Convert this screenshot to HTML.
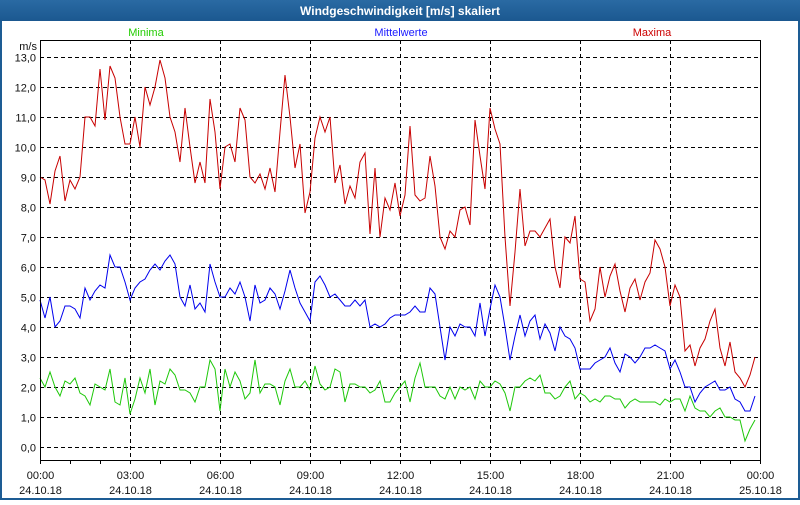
<!DOCTYPE html>
<html><head><meta charset="utf-8"><style>
body{margin:0;width:800px;height:500px;overflow:hidden;background:#fff;font-family:"Liberation Sans","DejaVu Sans",sans-serif}
</style></head><body>
<svg id="chart" width="800" height="500" xmlns="http://www.w3.org/2000/svg" font-family="Liberation Sans, DejaVu Sans, sans-serif">
<defs><linearGradient id="tg" x1="0" y1="0" x2="0" y2="1"><stop offset="0" stop-color="#2a6aa3"/><stop offset="1" stop-color="#1b5890"/></linearGradient></defs>
<rect x="1" y="1" width="798" height="498" fill="#fff" stroke="#1d5c94" stroke-width="2"/>
<rect x="0" y="0" width="800" height="21" fill="url(#tg)"/>
<text x="400" y="15" text-anchor="middle" fill="#fff" font-weight="bold" font-size="12">Windgeschwindigkeit [m/s] skaliert</text>
<text x="146" y="36" text-anchor="middle" fill="#22cc00" font-size="11">Minima</text>
<text x="401" y="36" text-anchor="middle" fill="#1a1aff" font-size="11">Mittelwerte</text>
<text x="652" y="36" text-anchor="middle" fill="#cc0000" font-size="11">Maxima</text>
<text x="37" y="50" text-anchor="end" fill="#111" font-size="11">m/s</text>
<g id="grid"></g><g id="series"></g><g id="axes"></g>
<rect x="40.5" y="40.5" width="720" height="420" fill="none" stroke="#000" stroke-width="1"/>
</svg>
<script>
const yTicks=[0,1,2,3,4,5,6,7,8,9,10,11,12,13];
const yTickLabels=["0,0","1,0","2,0","3,0","4,0","5,0","6,0","7,0","8,0","9,0","10,0","11,0","12,0","13,0"];
const xTickHours=[0,3,6,9,12,15,18,21,24];
const xTimeLabels=["00:00","03:00","06:00","09:00","12:00","15:00","18:00","21:00","00:00"];
const xDateLabels=["24.10.18","24.10.18","24.10.18","24.10.18","24.10.18","24.10.18","24.10.18","24.10.18","25.10.18"];
const stepMinutes=10;
const maxima=[9.0,8.9,8.1,9.2,9.7,8.2,8.9,8.6,9.0,11.0,11.0,10.7,12.6,10.9,12.7,12.3,11.0,10.1,10.1,11.0,10.0,12.0,11.4,12.0,12.9,12.3,11.0,10.5,9.5,11.3,10.0,8.8,9.5,8.8,11.6,10.5,8.6,10.0,10.1,9.5,11.3,10.9,9.0,8.8,9.1,8.6,9.3,8.5,10.5,12.4,11.0,9.3,10.1,7.8,8.5,10.3,11.0,10.5,11.0,8.8,9.4,8.1,8.7,8.3,9.5,9.8,7.1,9.3,7.0,8.3,7.9,8.8,7.7,8.4,10.7,8.4,8.2,8.3,9.7,8.7,7.0,6.6,7.2,7.0,7.9,8.0,7.4,10.9,9.7,8.6,11.3,10.6,10.1,7.0,4.7,6.5,8.6,6.7,7.2,7.2,7.0,7.3,7.6,6.0,5.3,7.0,6.8,7.7,5.6,5.5,4.2,4.6,6.0,5.0,5.7,6.1,5.2,4.5,5.3,5.6,4.9,5.5,5.8,6.9,6.6,6.0,4.7,5.4,5.0,3.2,3.4,2.7,3.3,3.6,4.2,4.6,3.3,2.7,3.5,2.5,2.3,2.0,2.4,3.0];
const mittelwerte=[4.9,4.3,5.0,4.0,4.2,4.7,4.7,4.6,4.3,5.3,4.9,5.2,5.4,5.3,6.4,6.0,6.0,5.5,4.9,5.3,5.5,5.6,5.9,6.1,5.9,6.2,6.4,6.1,5.0,4.7,5.4,4.6,4.8,4.5,6.1,5.5,5.0,5.0,5.3,5.1,5.5,5.0,4.2,5.4,4.8,4.9,5.3,5.1,4.6,5.2,5.9,5.3,4.8,4.5,4.2,5.5,5.7,5.4,5.0,5.1,4.9,4.7,4.7,4.9,4.7,4.9,4.0,4.1,4.0,4.1,4.3,4.4,4.4,4.4,4.5,4.7,4.5,4.5,5.3,5.1,4.0,2.9,4.0,3.7,4.1,4.0,4.0,3.7,4.8,3.7,4.6,5.4,5.0,4.0,2.9,3.7,4.4,3.7,4.2,4.4,3.6,4.1,3.8,3.2,4.0,3.7,3.6,3.3,2.6,2.6,2.6,2.8,2.9,3.0,3.3,2.8,2.5,3.1,3.0,2.8,3.0,3.3,3.3,3.4,3.3,3.2,2.6,2.9,2.5,2.0,2.0,1.5,1.8,2.0,2.1,2.2,1.9,1.9,2.0,1.6,1.5,1.2,1.2,1.7];
const minima=[2.3,2.0,2.5,2.0,1.7,2.2,2.1,2.3,1.8,1.7,1.4,2.1,2.0,1.9,2.6,1.5,1.4,2.3,1.1,1.6,2.3,1.8,2.6,1.4,2.2,2.1,2.6,2.4,1.9,1.9,1.8,1.5,2.0,2.0,2.9,2.6,1.2,2.6,2.0,2.5,2.2,1.6,1.8,2.9,1.8,2.1,2.1,2.0,1.4,2.2,2.6,2.0,2.0,2.2,1.9,2.7,2.1,1.9,2.0,2.6,2.5,1.5,2.1,2.1,2.0,2.0,1.8,1.9,2.2,1.5,1.5,1.8,2.0,2.2,1.5,2.3,2.8,2.0,2.0,2.0,1.7,1.6,2.0,1.6,2.0,1.9,2.0,1.6,2.2,2.0,2.0,2.2,2.1,1.8,1.2,2.0,2.0,2.2,2.3,2.2,2.4,1.8,1.8,1.6,1.7,2.0,2.2,1.6,1.8,1.7,1.5,1.6,1.5,1.7,1.7,1.6,1.6,1.3,1.5,1.6,1.5,1.5,1.5,1.5,1.4,1.6,1.5,1.6,1.6,1.2,1.7,1.3,1.2,1.2,1.0,1.2,1.3,1.0,1.0,0.9,0.9,0.2,0.6,0.9];

const NS="http://www.w3.org/2000/svg";
const X0=40,X1=760,Y0=447,PXPERUNIT=30;
function xScale(h){return X0+(X1-X0)*h/24;}
function yScale(v){return Y0-v*PXPERUNIT;}
function mk(tag,attrs,parent){const e=document.createElementNS(NS,tag);for(const k in attrs)e.setAttribute(k,attrs[k]);parent.appendChild(e);return e;}
const grid=document.getElementById('grid'),axes=document.getElementById('axes'),ser=document.getElementById('series');
yTicks.forEach((v,i)=>{
  const y=Math.round(yScale(v))+0.5;
  const l=mk('line',{x1:X0,x2:X1,y1:y,y2:y,stroke:'#000','stroke-dasharray':'4,3','stroke-width':1},grid);
  
  
  const t=mk('text',{x:36,y:y+4,'text-anchor':'end','font-size':11,fill:'#111'},axes);
  t.textContent=yTickLabels[i];
  
  
});
for(let h=0;h<=24;h++){
  const x=Math.round(xScale(h))+0.5;
  const tk=mk('line',{x1:x,x2:x,y1:460,y2:464,stroke:'#000'},axes);
  
  
}
xTickHours.forEach((h,i)=>{
  const x=Math.round(xScale(h))+0.5;
  if(h>0&&h<24){
    const l=mk('line',{x1:x,x2:x,y1:40,y2:460,stroke:'#000','stroke-dasharray':'4,3'},grid);
    
    
  }
  const t=mk('text',{x:x,y:479,'text-anchor':'middle','font-size':11,fill:'#111'},axes);
  t.textContent=xTimeLabels[i];
  
  
  const d=mk('text',{x:x,y:494,'text-anchor':'middle','font-size':11,fill:'#111'},axes);
  d.textContent=xDateLabels[i];
  
  
});
function drawLine(vals,color,name){
  const pts=vals.map((v,i)=>xScale(i*stepMinutes/60).toFixed(1)+','+yScale(v).toFixed(1)).join(' ');
  const p=mk('polyline',{points:pts,fill:'none',stroke:color,'stroke-width':1,'stroke-linejoin':'miter'},ser);
  
  
}
drawLine(minima,'#1ec80a','minima-line');
drawLine(mittelwerte,'#0000ee','mittelwerte-line');
drawLine(maxima,'#c80000','maxima-line');
</script>
</body></html>
